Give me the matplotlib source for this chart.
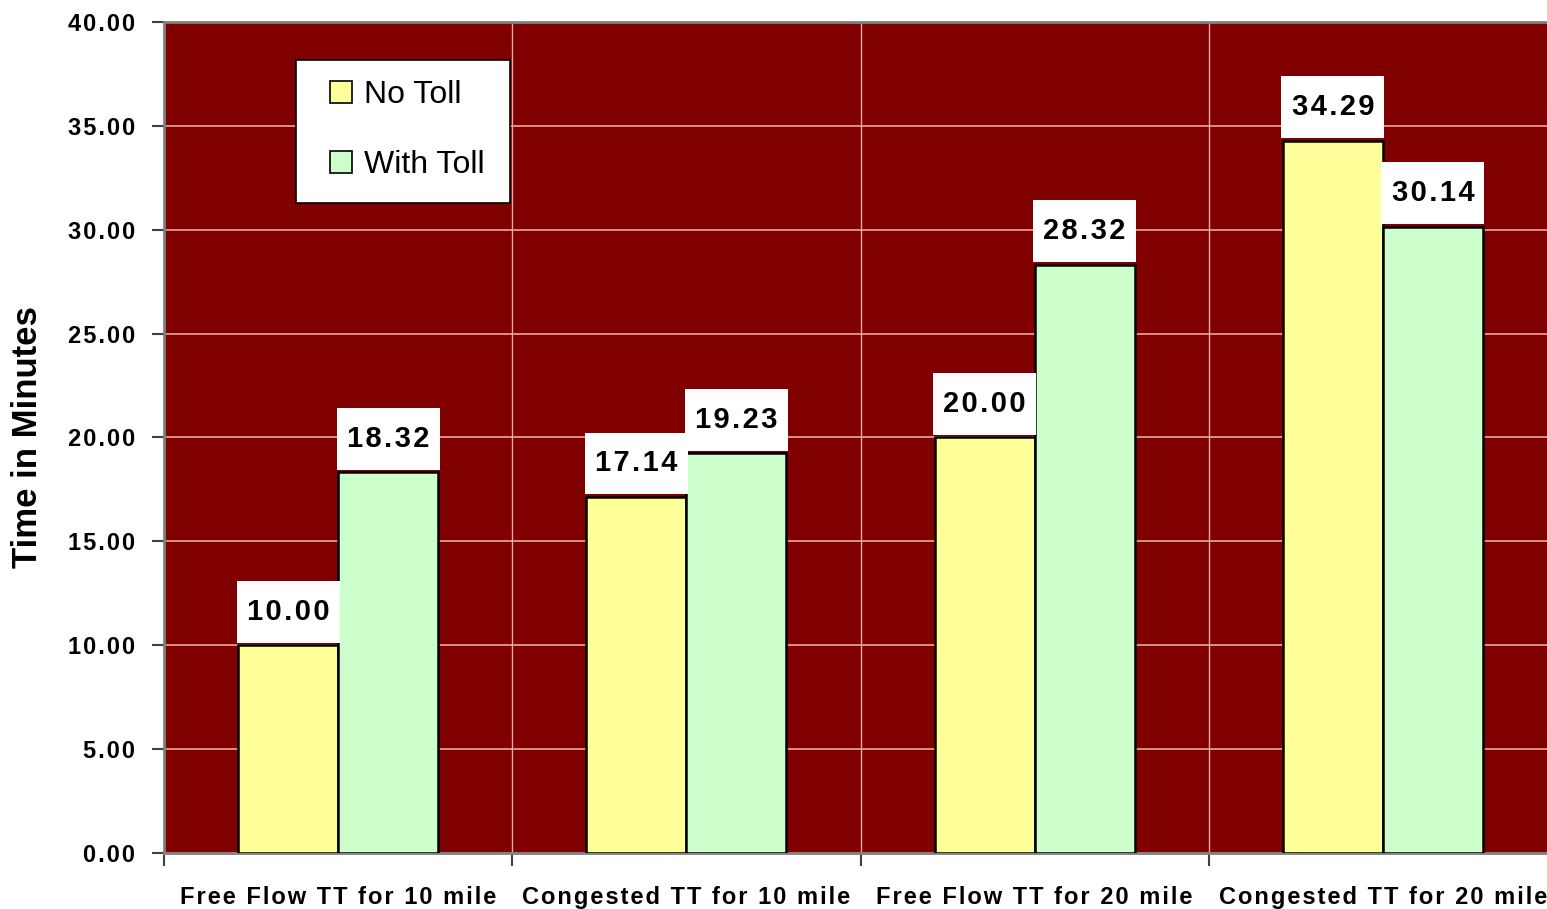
import matplotlib.pyplot as plt
from matplotlib.patches import Patch, Rectangle
import numpy as np

plt.rcParams['font.family'] = ['Liberation Sans', 'DejaVu Sans']

categories = ["Free Flow TT for 10 mile", "Congested TT for 10 mile",
              "Free Flow TT for 20 mile", "Congested TT for 20 mile"]
no_toll = [10.00, 17.14, 20.00, 34.29]
with_toll = [18.32, 19.23, 28.32, 30.14]
yticks = [0, 5, 10, 15, 20, 25, 30, 35, 40]


def spaced(s, gap='\u200a'):
    # imitate the wide letter spacing of the original
    return gap.join(s)


fig = plt.figure(figsize=(15.47, 9.09), dpi=100)
ax = fig.add_axes([164 / 1547, 1 - 853 / 909, 1393 / 1547, (853 - 22) / 909])
ax.set_facecolor('#800000')

x = np.arange(len(categories))
w = 0.287
ax.bar(x - w / 2, no_toll, w, color='#FFFF99', edgecolor='black', linewidth=1.8, zorder=3)
ax.bar(x + w / 2, with_toll, w, color='#CCFFCC', edgecolor='black', linewidth=1.8, zorder=3)

# white value boxes on top of the bars
bw = 0.296
bh = 2.98
for xs, vals in [(x - w / 2, no_toll), (x + w / 2, with_toll)]:
    for xi, v in zip(xs, vals):
        ax.add_patch(Rectangle((xi - bw / 2, v + 0.12), bw, bh, facecolor='white',
                               edgecolor='none', zorder=4))
        ax.text(xi, v + 0.12 + bh / 2, spaced('%.2f' % v), ha='center', va='center',
                fontsize=21, fontweight='bold', color='black', zorder=5)

ax.set_xlim(-0.5, 3.5)
ax.set_ylim(0, 40)
ax.set_yticks(yticks)
ax.set_yticklabels([spaced('%.2f' % t) for t in yticks], fontsize=17, fontweight='bold')
ax.tick_params(axis='y', direction='out', length=9, width=1.5, color='#404040', pad=12)

ax.set_xticks(x)
ax.set_xticklabels([spaced(c) for c in categories], fontsize=17, fontweight='bold')
ax.tick_params(axis='x', which='major', length=0, pad=24)
ax.set_xticks(np.arange(-0.5, 4.0, 1.0), minor=True)
ax.tick_params(axis='x', which='minor', direction='out', length=9, width=1.5, color='#404040')

ax.grid(axis='y', color='#E8A8A8', linewidth=1.2, zorder=1)
for b in [0.5, 1.5, 2.5]:
    ax.axvline(b, color='#E8A8A8', linewidth=1.0, zorder=1)
ax.set_axisbelow(True)

for s in ['left', 'bottom', 'top']:
    ax.spines[s].set_color('#808080')
    ax.spines[s].set_linewidth(2)
ax.spines['right'].set_visible(False)

ax.set_ylabel('Time in Minutes', fontsize=25, fontweight='bold', labelpad=17)

# legend box drawn separately so the entries can sit where the original has them
ax.add_patch(Rectangle((132 / 1393, 1 - 181 / 831), 214 / 1393, 143 / 831,
                       transform=ax.transAxes, facecolor='white', edgecolor='black',
                       linewidth=1.2, zorder=6))
handles = [Patch(facecolor='#FFFF99', edgecolor='black', linewidth=1.2),
           Patch(facecolor='#CCFFCC', edgecolor='black', linewidth=1.2)]
leg = ax.legend(handles, ['No Toll', 'With Toll'], loc='center left',
                bbox_to_anchor=((330 - 164) / 1393, 1 - 108 / 831), fontsize=23,
                frameon=False, handlelength=0.7, handleheight=0.7, handletextpad=0.35,
                labelspacing=1.25, borderpad=0, borderaxespad=0)
leg.set_zorder(7)

fig.savefig('out.png', dpi=100)
